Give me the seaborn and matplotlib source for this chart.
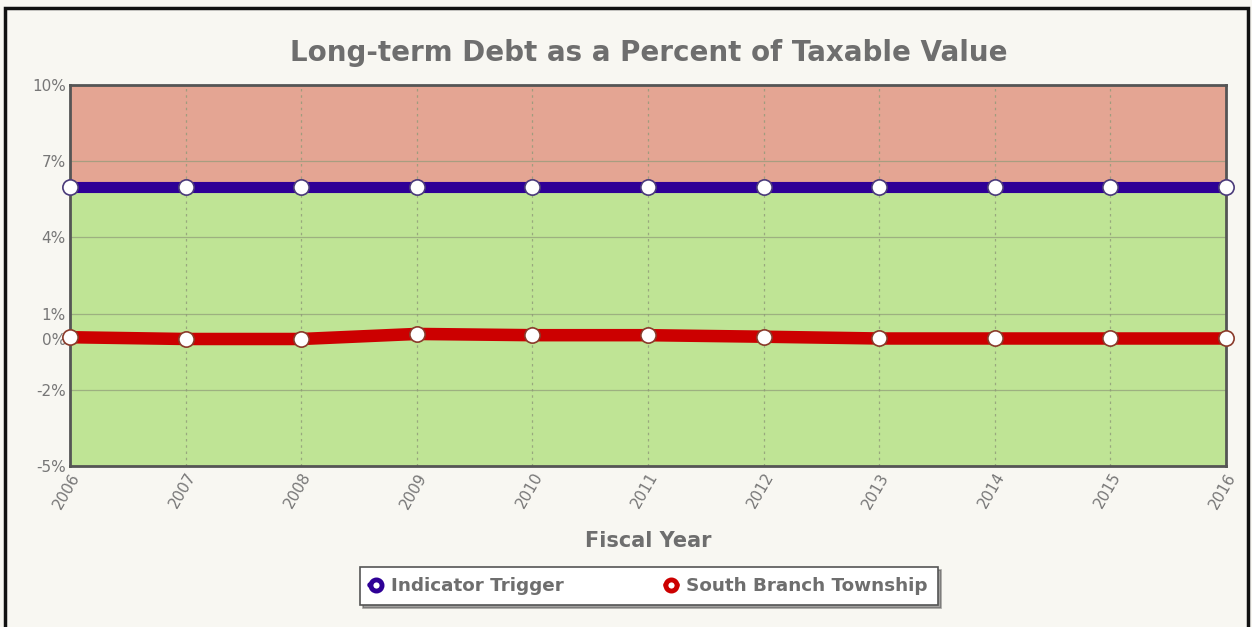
import matplotlib
matplotlib.use("Agg")
import matplotlib.pyplot as plt
import matplotlib.patches as mpatches
from matplotlib.lines import Line2D
import seaborn as sns
import pandas as pd

# Fiscal years and percent values
years = [2006, 2007, 2008, 2009, 2010, 2011, 2012, 2013, 2014, 2015, 2016]
indicator_trigger = [6, 6, 6, 6, 6, 6, 6, 6, 6, 6, 6]
south_branch = [0.07, 0.0, 0.0, 0.2, 0.15, 0.15, 0.09, 0.02, 0.02, 0.02, 0.02]
y_ticks = [-5, -2, 0, 1, 4, 7, 10]
y_min, y_max = -5, 10
threshold = 6

sns.set_theme(style="white")
plt.rcParams['font.family'] = ['DejaVu Sans']

bg = "#f8f7f2"
text_gray = "#6e6e6e"
tick_gray = "#777777"
fig = plt.figure(figsize=(12.52, 6.27), dpi=100, facecolor=bg)

# outer frame
frame = mpatches.Rectangle((0.004, -0.05), 0.993, 1.037, transform=fig.transFigure,
                           fill=False, edgecolor="#111111", linewidth=2.5)
fig.patches.append(frame)

ax = fig.add_axes([0.0559, 0.2568, 0.9233, 0.6076])
ax.set_facecolor("#bfe495")

# background bands
ax.axhspan(threshold, y_max, color="#e4a593", zorder=0)
ax.axhspan(y_min, threshold, color="#bfe495", zorder=0)

# gridlines
for t in y_ticks:
    ax.axhline(t, color="#8f9a78", linewidth=0.9, alpha=0.7, zorder=1)
for yr in years:
    ax.axvline(yr, color="#8f9a78", linewidth=0.9, linestyle=(0, (2, 3)), alpha=0.8, zorder=1)

df = pd.DataFrame({
    "year": years * 2,
    "value": indicator_trigger + south_branch,
    "series": ["Indicator Trigger"] * len(years) + ["South Branch Township"] * len(years),
})
palette = {"Indicator Trigger": "#2e0096", "South Branch Township": "#cc0000"}

sns.lineplot(data=df[df.series == "Indicator Trigger"], x="year", y="value", ax=ax,
             color=palette["Indicator Trigger"], linewidth=8, marker="o", markersize=11,
             markerfacecolor="white", markeredgecolor="#4a3a7a", markeredgewidth=1.2,
             legend=False, zorder=3, clip_on=False)
sns.lineplot(data=df[df.series == "South Branch Township"], x="year", y="value", ax=ax,
             color=palette["South Branch Township"], linewidth=9, marker="o", markersize=11,
             markerfacecolor="white", markeredgecolor="#8a3a2a", markeredgewidth=1.2,
             legend=False, zorder=3, clip_on=False)

ax.set_xlim(years[0], years[-1])
ax.set_ylim(y_min, y_max)
ax.set_yticks(y_ticks)
ax.set_yticklabels([f"{t}%" for t in y_ticks], color=tick_gray, fontsize=11)
ax.set_xticks(years)
ax.set_xticklabels([str(y) for y in years], rotation=60, ha="right", va="top",
                   rotation_mode="anchor", color=tick_gray, fontsize=11)
ax.tick_params(axis="both", length=0, pad=3)
ax.set_xlabel("Fiscal Year", fontsize=15, fontweight="bold", color=text_gray, labelpad=14)
ax.set_ylabel("")
for s in ax.spines.values():
    s.set_color("#555555")
    s.set_linewidth(2)

fig.text(0.518, 0.915, "Long-term Debt as a Percent of Taxable Value", ha="center", va="center",
         fontsize=20, fontweight="bold", color=text_gray)

handles = [
    Line2D([0], [0], color=palette["Indicator Trigger"], linewidth=4, marker="o", markersize=8,
           markerfacecolor="white", markeredgecolor=palette["Indicator Trigger"], markeredgewidth=3.5),
    Line2D([0], [0], color=palette["South Branch Township"], linewidth=4, marker="o", markersize=8,
           markerfacecolor="white", markeredgecolor=palette["South Branch Township"], markeredgewidth=3.5),
]
leg = fig.legend(handles, ["Indicator Trigger", "South Branch Township"], loc="center",
                 bbox_to_anchor=(0.5184, 0.0655), ncol=2, frameon=True, fancybox=False, shadow=True,
                 handlelength=0.6, handletextpad=0.5, columnspacing=5.6, borderpad=0.55,
                 borderaxespad=0, prop={"weight": "bold", "size": 13.2})
leg.get_frame().set_edgecolor("#555555")
leg.get_frame().set_linewidth(1.2)
leg.get_frame().set_facecolor("white")
for t in leg.get_texts():
    t.set_color(text_gray)

fig.savefig("out.png", dpi=100, facecolor=bg)
